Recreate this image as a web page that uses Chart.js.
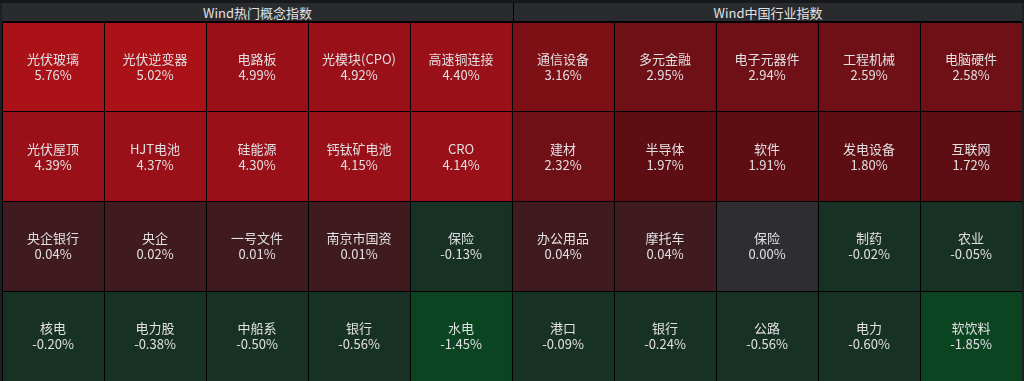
<!DOCTYPE html>
<html>
<head>
<meta charset="utf-8">
<script src="https://cdn.jsdelivr.net/npm/chart.js@4.4.1/dist/chart.umd.min.js"></script>
<style>
  html, body { margin: 0; padding: 0; background: #1e1f23; width: 1024px; height: 381px; overflow: hidden; }
  #top { position: absolute; left: 0; top: 0; width: 1024px; height: 3px; background: #16181c; }
  .hdr { position: absolute; top: 3px; height: 18px; line-height: 18px; background: #2a2b2f; color: #e2e2e2;
         font: 13px "Noto Sans CJK SC", "Noto Sans", sans-serif; text-align: center; border-bottom: 1px solid #000; }
  #h1 { left: 2px; width: 511px; border-right: 1px solid #000; }
  #h2 { left: 514px; width: 508px; }
  #wrap { position: absolute; left: 2px; top: 22px; width: 1020px; height: 359px; }
</style>
</head>
<body>
<div id="top"></div>
<div class="hdr" id="h1"></div>
<div class="hdr" id="h2"></div>
<div id="wrap"><canvas id="c"></canvas></div>
<script>
const panelTitles = ["Wind热门概念指数", "Wind中国行业指数"];

const conceptNames = ["光伏玻璃", "光伏逆变器", "电路板", "光模块(CPO)", "高速铜连接",
                      "光伏屋顶", "HJT电池", "硅能源", "钙钛矿电池", "CRO",
                      "央企银行", "央企", "一号文件", "南京市国资", "保险",
                      "核电", "电力股", "中船系", "银行", "水电"];
const conceptValues = [5.76, 5.02, 4.99, 4.92, 4.40,
                       4.39, 4.37, 4.30, 4.15, 4.14,
                       0.04, 0.02, 0.01, 0.01, -0.13,
                       -0.20, -0.38, -0.50, -0.56, -1.45];

const industryNames = ["通信设备", "多元金融", "电子元器件", "工程机械", "电脑硬件",
                       "建材", "半导体", "软件", "发电设备", "互联网",
                       "办公用品", "摩托车", "保险", "制药", "农业",
                       "港口", "银行", "公路", "电力", "软饮料"];
const industryValues = [3.16, 2.95, 2.94, 2.59, 2.58,
                        2.32, 1.97, 1.91, 1.80, 1.72,
                        0.04, 0.04, 0.00, -0.02, -0.05,
                        -0.09, -0.24, -0.56, -0.60, -1.85];

document.getElementById('h1').textContent = panelTitles[0];
document.getElementById('h2').textContent = panelTitles[1];

const COLS = 5, ROWS = 4;
const columnLabels = [];
for (let i = 0; i < COLS * 2; i++) columnLabels.push('c' + i);

function colorFor(v) {
  if (v >= 5) return '#ab1218';
  if (v >= 4) return '#9a1018';
  if (v >= 3) return '#7d1015';
  if (v >= 2) return '#6e1016';
  if (v >= 1) return '#5e0e12';
  if (v > 0) return '#3f1a1f';
  if (v === 0) return '#2e2e32';
  if (v > -1) return '#183125';
  return '#0b4420';
}

function cell(r, x) {
  const p = x < COLS ? 0 : 1;
  const idx = r * COLS + (x % COLS);
  return p === 0 ? { name: conceptNames[idx], value: conceptValues[idx] }
                 : { name: industryNames[idx], value: industryValues[idx] };
}

const datasets = [];
for (let r = 0; r < ROWS; r++) {
  const data = [], colors = [], names = [], values = [];
  for (let x = 0; x < COLS * 2; x++) {
    const c = cell(r, x);
    data.push([r, r + 1]);
    colors.push(colorFor(c.value));
    names.push(c.name);
    values.push(c.value);
  }
  datasets.push({ data, backgroundColor: colors, borderWidth: 0, names, values,
                  barPercentage: 1, categoryPercentage: 1, grouped: false });
}

const labelPlugin = {
  id: 'cellLabels',
  afterDatasetsDraw(chart) {
    const ctx = chart.ctx;
    ctx.save();
    ctx.textAlign = 'center';
    ctx.textBaseline = 'middle';
    ctx.fillStyle = '#e2dfe2';
    ctx.font = '13px "Noto Sans CJK SC", "Noto Sans", sans-serif';
    chart.data.datasets.forEach((ds, di) => {
      const meta = chart.getDatasetMeta(di);
      meta.data.forEach((el, i) => {
        const top = Math.min(el.y, el.base), bot = Math.max(el.y, el.base);
        const cy = (top + bot) / 2;
        ctx.fillText(ds.names[i], el.x, cy - 8);
        ctx.fillText(ds.values[i].toFixed(2) + '%', el.x, cy + 8);
      });
    });
    ctx.restore();
  }
};

new Chart(document.getElementById('c'), {
  type: 'bar',
  data: { labels: columnLabels, datasets },
  options: {
    responsive: true,
    maintainAspectRatio: false,
    animation: false,
    layout: { padding: 0 },
    plugins: { legend: { display: false }, tooltip: { enabled: false } },
    scales: {
      x: {
        type: 'category', offset: true,
        grid: { offset: true, color: '#000', lineWidth: 1, drawTicks: false, z: 1 },
        border: { display: false },
        ticks: { display: false }
      },
      y: {
        type: 'linear', min: 0, max: ROWS, reverse: true,
        grid: { color: '#000', lineWidth: 1, drawTicks: false, z: 1 },
        border: { display: false },
        ticks: { display: false, stepSize: 1 }
      }
    }
  },
  plugins: [labelPlugin]
});
</script>
</body>
</html>
